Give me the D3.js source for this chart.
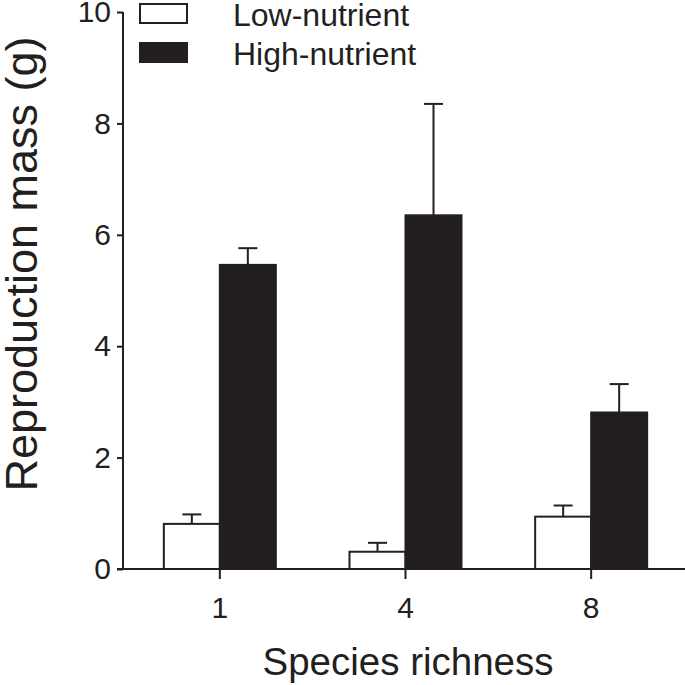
<!DOCTYPE html>
<html>
<head>
<meta charset="utf-8">
<script src="https://cdn.jsdelivr.net/npm/d3@7"></script>
<style>
  html, body { margin: 0; padding: 0; background: #fff; }
  svg { display: block; font-family: "Liberation Sans", Arial, sans-serif; }
</style>
</head>
<body>
<div id="chart"></div>
<script>
// data
const richness = ['1', '4', '8'];
const lowMean = [0.81, 0.31, 0.94];
const lowErr = [0.17, 0.16, 0.20];
const highMean = [5.46, 6.35, 2.81];
const highErr = [0.30, 2.00, 0.51];
const yTicks = [0, 2, 4, 6, 8, 10];
const seriesNames = ['Low-nutrient', 'High-nutrient'];

const W = 685, H = 685;
const ink = '#231f20';

const svg = d3.select('#chart').append('svg')
  .attr('width', W).attr('height', H);

const x = d3.scaleBand().domain(richness).range([127, 684]);
const y = d3.scaleLinear().domain([0, 10]).range([569, 12]);
const barW = 56;

const rows = richness.map((r, i) => ({
  r,
  bars: [
    { key: 'low', v: lowMean[i], e: lowErr[i], off: -barW, fill: '#fff' },
    { key: 'high', v: highMean[i], e: highErr[i], off: 0, fill: ink }
  ]
}));

// error bars (upper only), drawn under the bars
const g = svg.append('g');
rows.forEach(row => {
  const cx = x(row.r) + x.bandwidth() / 2;
  row.bars.forEach(b => {
    const ex = cx + b.off + barW / 2;
    g.append('line')
      .attr('x1', ex).attr('x2', ex)
      .attr('y1', y(b.v)).attr('y2', y(b.v + b.e))
      .attr('stroke', ink).attr('stroke-width', 2);
    g.append('line')
      .attr('x1', ex - 9.5).attr('x2', ex + 9.5)
      .attr('y1', y(b.v + b.e)).attr('y2', y(b.v + b.e))
      .attr('stroke', ink).attr('stroke-width', 2);
  });
});

rows.forEach(row => {
  const cx = x(row.r) + x.bandwidth() / 2;
  g.selectAll(null).data(row.bars).enter().append('rect')
    .attr('x', d => cx + d.off)
    .attr('y', d => y(d.v))
    .attr('width', barW)
    .attr('height', d => y(0) - y(d.v))
    .attr('fill', d => d.fill)
    .attr('stroke', ink).attr('stroke-width', 2);
});

// y axis
const yAxis = svg.append('g')
  .attr('transform', 'translate(123,0)')
  .call(d3.axisLeft(y).tickValues(yTicks).tickSize(6).tickPadding(6).tickSizeOuter(0));
yAxis.select('.domain').attr('stroke', ink).attr('stroke-width', 2)
  .attr('d', `M0,${y(10)}V${y(0)}`);
yAxis.selectAll('.tick line').attr('stroke', ink).attr('stroke-width', 2);
yAxis.selectAll('.tick text').attr('font-size', 30).attr('fill', ink)
  .attr('font-family', '"Liberation Sans", Arial, sans-serif');

// x axis
const xAxis = svg.append('g')
  .attr('transform', `translate(0,${y(0)})`)
  .call(d3.axisBottom(x).tickSize(10).tickPadding(18).tickSizeOuter(0));
xAxis.select('.domain').attr('stroke', ink).attr('stroke-width', 2)
  .attr('d', 'M117,0H685');
xAxis.selectAll('.tick line').attr('stroke', ink).attr('stroke-width', 2);
xAxis.selectAll('.tick text').attr('font-size', 30).attr('fill', ink)
  .attr('font-family', '"Liberation Sans", Arial, sans-serif');

// axis titles
svg.append('text')
  .attr('x', 408).attr('y', 675)
  .attr('text-anchor', 'middle')
  .attr('font-size', 38.5).attr('fill', ink)
  .text('Species richness');

svg.append('text')
  .attr('transform', 'translate(37,264) rotate(-90)')
  .attr('text-anchor', 'middle')
  .attr('font-size', 45).attr('fill', ink)
  .text('Reproduction mass (g)');

// legend
const legend = svg.append('g');
seriesNames.forEach((name, i) => {
  legend.append('rect')
    .attr('x', 140).attr('y', 4 + i * 39)
    .attr('width', 47).attr('height', 19)
    .attr('fill', i === 0 ? '#fff' : ink)
    .attr('stroke', ink).attr('stroke-width', 2);
  legend.append('text')
    .attr('x', 233).attr('y', 26 + i * 39)
    .attr('font-size', 32).attr('fill', ink)
    .text(name);
});
</script>
</body>
</html>
